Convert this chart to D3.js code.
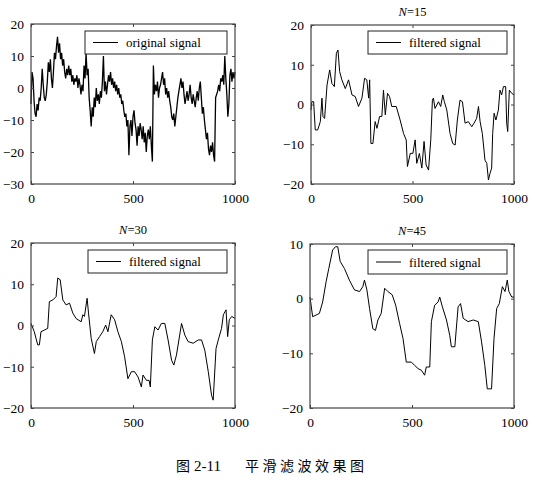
<!DOCTYPE html>
<html>
<head>
<meta charset="utf-8">
<script src="https://cdn.jsdelivr.net/npm/d3@7"></script>
<style>
  body { margin: 0; background: #fff; }
  svg { display: block; }
</style>
</head>
<body>
<svg id="chart" width="535" height="492"></svg>
<script>

// original signal, sampled every 5 points
var orig_x = d3.range(0, 1001, 5)
var orig_y = [
  -5, 5, 3, -4, -8, -9, -5, -7, -3, -4, 0, 6, 1, -3, -4, -2, 2, 8, 5, 9,
  3, 0, 5, 11, 9, 13, 16, 11, 14, 9, 11, 7, 9, 5, 3, 6, 4, 7, 4, 6,
  2, 4, 1, 3, 2, 4, 0, 3, 1, -2, 1, -1, 7, 3, 11, 4, 6, -3, -7, -12,
  -6, -9, -3, -6, 0, -4, -2, -5, -1, -3, 2, 10, -1, 2, -2, 1, 4, 2, 5, 1,
  3, 0, 2, -1, 1, -2, 0, -3, -2, -5, -4, -7, -9, -8, -12, -10, -21, -12, -10, -15,
  -9, -7, -11, -13, -18, -12, -15, -11, -13, -16, -12, -17, -14, -20, -15, -13, -16, -12, -18, -23,
  7, -2, 1, -1, 2, -3, 0, 1, 3, 5, 1, 3, -2, 0, -3, -1, -4, -6, -9, -10,
  -8, -12, -9, -6, -3, -1, 1, 3, 0, 2, -2, -5, -3, -1, -4, -2, 1, -3, -5, -2,
  -4, -6, -3, -1, -4, 0, 2, -3, -8, -6, -10, -13, -16, -14, -19, -21, -18, -20, -17, -21,
  -23, -3, -2, -1, 1, -1, 3, 2, 4, 1, 10, 3, -2, -9, -5, 4, 6, 2, 5, 3,
  5
]

// filtered, N=15
var n15_x = [0, 4, 13, 21, 33, 46, 54, 59, 67, 79, 92, 103, 115, 125, 133, 141, 152, 169, 185, 202,
  218, 234, 251, 264, 275, 284, 289, 295, 305, 316, 325, 338, 349, 357, 366, 377, 387, 398, 420, 439,
  456, 469, 475, 489, 502, 513, 521, 534, 546, 557, 567, 579, 590, 598, 603, 611, 628, 639, 649, 657,
  669, 685, 698, 710, 721, 734, 746, 759, 775, 792, 803, 816, 825, 833, 844, 857, 866, 874, 882, 890,
  895, 902, 911, 923, 931, 939, 948, 959, 964, 969, 977, 989, 1000]
var n15_y = [-1.4, 0.7, 0.7, -6.4, -6.4, -4.3, 1.6, -3, -3.5, 4.9, 8.7, 5.3, 4.5, 12.9, 13.7, 8.3, 6.2, 4, 6.2, 2.4,
  2, -0.5, 1.6, 6.6, 6.2, 1.6, 6.2, -9.8, -9.8, -4.3, -6, -3, -3, 3.6, -2.6, 2.8, 2, -0.5, -0.5, -3.9,
  -7.3, -8.9, -15.6, -12.3, -12.3, -8.9, -14.8, -12.3, -16, -9.3, -15.2, -16.5, -8.9, 1.1, 1.6, -1, 0.7, -0.5, 2.4, 0.7,
  -1.4, -7.3, -9.8, -10.2, -3.9, 1.1, 0.7, -4.7, -4.3, -5.6, -4.7, -3.5, -0.5, -4.3, -7.3, -14, -14.8, -19, -17.3, -16,
  -7.3, -2.2, -3.9, -1.4, 3.6, 2.4, 4.5, 4.5, -4.7, -6.8, 3.6, 2.8, 2.4]

// filtered, N=30
var n30_x = [0, 16, 33, 41, 49, 66, 82, 90, 107, 123, 131, 143, 156, 172, 189, 205, 221, 246, 254, 262,
  275, 282, 295, 311, 320, 336, 352, 366, 377, 393, 410, 426, 443, 459, 475, 492, 508, 525, 541, 549,
  566, 579, 585, 595, 607, 623, 639, 656, 672, 689, 700, 713, 738, 754, 770, 795, 820, 836, 852, 869,
  885, 893, 907, 918, 934, 943, 956, 964, 972, 984, 1000]
var n30_y = [0.5, -1.5, -4.7, -4.7, -1.5, -1.1, -0.7, 5.8, 6.2, 7, 11.5, 11.1, 6.2, 5, 5.4, 3, 1.7, 0.9, 2.6, 2.2,
  6.6, 3, -3.1, -6.8, -3.9, -2.7, -1.5, 0.1, -1.5, 2.6, 1.4, -1.5, -3.9, -7.6, -12.9, -11.2, -11.2, -12.5, -14.9, -12,
  -13.3, -13.3, -14.9, -3.5, -0.3, -1.1, 0.5, 0.5, -3.5, -8.4, -9.6, -7.2, 0.5, -2.3, -3.9, -4.3, -3.5, -3.5, -6, -11.2,
  -16.9, -18.1, -5.6, -3.5, -0.7, 2.6, 3.8, -2.7, 1.4, 2.2, 1.7]

// filtered, N=45
var n45_x = [0, 13, 30, 46, 62, 79, 92, 111, 125, 136, 148, 169, 193, 218, 243, 259, 267, 279, 292, 308,
  321, 333, 349, 366, 382, 403, 420, 439, 456, 472, 497, 513, 530, 546, 562, 570, 587, 595, 611, 628,
  636, 649, 669, 685, 693, 710, 726, 738, 751, 775, 800, 825, 841, 857, 869, 890, 902, 915, 928, 943,
  956, 967, 975, 989, 1000]
var n45_y = [0.3, -3.3, -3, -2.7, -0.6, 3.1, 5.5, 8.9, 9.5, 9.5, 6.8, 5.5, 3.4, 1.6, 1.3, 2.2, 3.4, 1.6, -1.8, -5.5,
  -5.8, -3.9, -2.7, 1.9, 1.3, 0.7, -1.2, -4.5, -7.3, -11.6, -11.6, -12.2, -12.8, -13.1, -14, -12.5, -12.5, -4.2, -1.2, -0.6,
  0.3, -1.5, -3.9, -6.7, -8.8, -8.8, -1.5, -0.9, -3.6, -4.2, -3.9, -4.2, -7.9, -12.2, -16.5, -16.5, -7.3, -1.8, -0.9, 2.2,
  1.3, 3.4, 1.3, 0.3, 0.3]

var x_ticks = [0, 500, 1000]

var panels = [
  { xs: orig_x, ys: orig_y, title: null, label: "original signal", width: 1.3,
    left: 31, top: 24, right: 235, bottom: 184, ydom: [-30, 20], yticks: [-30, -20, -10, 0, 10, 20],
    legend: [85, 31, 142, 23] },
  { xs: n15_x, ys: n15_y, title: "15", label: "filtered signal", width: 1,
    left: 311, top: 25, right: 514, bottom: 184, ydom: [-20, 20], yticks: [-20, -10, 0, 10, 20],
    legend: [368, 31, 139, 23] },
  { xs: n30_x, ys: n30_y, title: "30", label: "filtered signal", width: 1,
    left: 31, top: 243, right: 235, bottom: 408, ydom: [-20, 20], yticks: [-20, -10, 0, 10, 20],
    legend: [88, 250, 139, 23] },
  { xs: n45_x, ys: n45_y, title: "45", label: "filtered signal", width: 1,
    left: 310, top: 244, right: 514, bottom: 408, ydom: [-20, 10], yticks: [-20, -10, 0, 10],
    legend: [368, 250, 139, 24] }
]

var svg = d3.select("#chart")
var serif = "'Liberation Serif', 'Times New Roman', serif"
var fmt = function(d){ return d < 0 ? "\u2212" + Math.abs(d) : String(d) }

panels.forEach(function(p){
  var x = d3.scaleLinear().domain([0, 1000]).range([p.left, p.right])
  var y = d3.scaleLinear().domain(p.ydom).range([p.bottom, p.top])
  var g = svg.append("g")

  // signal
  var pts = p.xs.map(function(d, i){ return [d, p.ys[i]] })
  g.append("path")
    .datum(pts)
    .attr("fill", "none")
    .attr("stroke", "#000")
    .attr("stroke-width", p.width)
    .attr("d", d3.line().x(function(d){ return x(d[0]) }).y(function(d){ return y(d[1]) }))

  // axes, ticks inward on all four sides
  var ax = [
    g.append("g").attr("transform", "translate(0," + p.bottom + ")")
      .call(d3.axisBottom(x).tickValues(x_ticks).tickSize(-3).tickPadding(9).tickFormat(fmt)),
    g.append("g").attr("transform", "translate(" + p.left + ",0)")
      .call(d3.axisLeft(y).tickValues(p.yticks).tickSize(-3).tickPadding(7).tickFormat(fmt)),
    g.append("g").attr("transform", "translate(0," + p.top + ")")
      .call(d3.axisTop(x).tickValues(x_ticks).tickSize(-3).tickFormat("")),
    g.append("g").attr("transform", "translate(" + p.right + ",0)")
      .call(d3.axisRight(y).tickValues(p.yticks).tickSize(-3).tickFormat(""))
  ]
  ax.forEach(function(a){
    a.attr("font-family", serif).attr("font-size", 13.5)
    a.select(".domain").remove()
    a.selectAll(".tick line").attr("stroke", "#444")
  })

  g.append("rect")
    .attr("x", p.left).attr("y", p.top)
    .attr("width", p.right - p.left).attr("height", p.bottom - p.top)
    .attr("fill", "none").attr("stroke", "#444").attr("stroke-width", 1.2)

  // legend
  var lg = p.legend
  g.append("rect")
    .attr("x", lg[0]).attr("y", lg[1]).attr("width", lg[2]).attr("height", lg[3])
    .attr("fill", "#fff").attr("stroke", "#222").attr("stroke-width", 1)
  g.append("line")
    .attr("x1", lg[0] + 8).attr("x2", lg[0] + 33)
    .attr("y1", lg[1] + lg[3] / 2).attr("y2", lg[1] + lg[3] / 2)
    .attr("stroke", "#000").attr("stroke-width", 1)
  g.append("text")
    .attr("x", lg[0] + 41).attr("y", lg[1] + lg[3] / 2 + 4.5)
    .attr("font-family", serif).attr("font-size", 13)
    .text(p.label)

  // title
  if (p.title) {
    var t = g.append("text")
      .attr("x", (p.left + p.right) / 2).attr("y", p.top - 9)
      .attr("text-anchor", "middle")
      .attr("font-family", serif).attr("font-size", 12.5)
    t.append("tspan").attr("font-style", "italic").text("N")
    t.append("tspan").text("=" + p.title)
  }
})

// caption
var cap = svg.append("g").attr("font-size", 14)
cap.append("text").attr("x", 176).attr("y", 471)
  .attr("font-family", "'Noto Sans CJK SC', sans-serif").text("图")
cap.append("text").attr("x", 194).attr("y", 471)
  .attr("font-family", serif).attr("font-size", 15).text("2-11")
cap.append("text").attr("x", 245).attr("y", 471)
  .attr("font-family", "'Noto Sans CJK SC', sans-serif")
  .attr("letter-spacing", 3.5)
  .text("平滑滤波效果图")

</script>
</body>
</html>
